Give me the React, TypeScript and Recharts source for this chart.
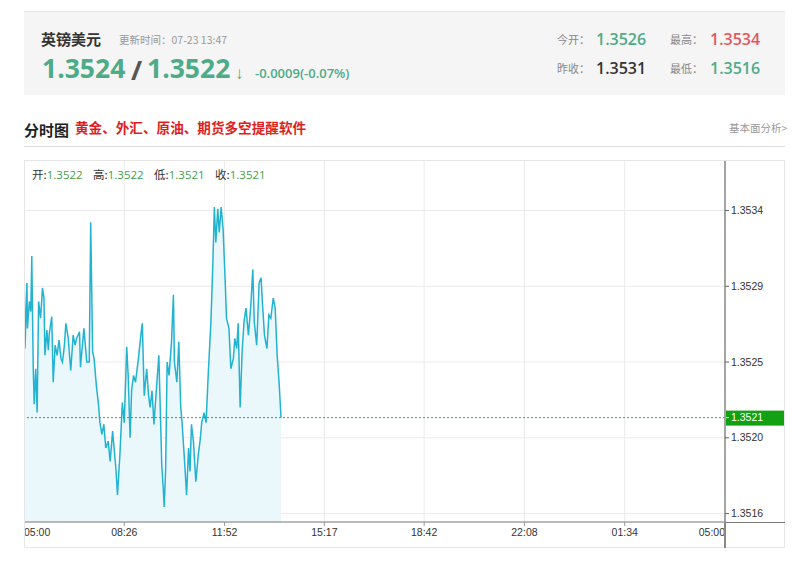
import React from 'react';
import { ComposedChart, Area, XAxis, YAxis, CartesianGrid, ReferenceLine } from 'recharts';

// ---------- data ----------
const PAIR_NAME = '英镑美元';
const UPDATED = '更新时间：07-23 13:47';
const BID = '1.3524';
const ASK = '1.3522';
const CHANGE = '-0.0009(-0.07%)';
const STAT_LABELS = ['今开：', '最高：', '昨收：', '最低：'];
const STAT_VALUES = ['1.3526', '1.3534', '1.3531', '1.3516'];
const TITLE = '分时图';
const PROMO = '黄金、外汇、原油、期货多空提醒软件';
const LINK = '基本面分析>';
const OHLC_LABELS = ['开:', '高:', '低:', '收:'];
const OHLC_VALUES = ['1.3522', '1.3522', '1.3521', '1.3521'];

const TIME_TICKS = [0, 206, 412, 617, 822, 1028, 1234, 1440];
const TIME_LABELS = ['05:00', '08:26', '11:52', '15:17', '18:42', '22:08', '01:34', '05:00'];
const PRICE_TICKS = [1.3516, 1.35205, 1.3525, 1.35295, 1.3534];
const PRICE_LABELS = ['1.3516', '1.3520', '1.3525', '1.3529', '1.3534'];

// minutes after 05:00
const MINUTES = [
  0, 2, 6, 7, 11, 14, 16, 19, 21, 24, 27, 30, 34, 38, 41, 43, 47, 50, 52, 57,
  60, 64, 68, 72, 76, 79, 83, 86, 91, 96, 101, 105, 108, 114, 116, 120, 123, 129, 134, 137,
  141, 144, 149, 153, 156, 160, 164, 168, 173, 177, 182, 185, 189, 192, 197, 202, 206, 211, 214, 218,
  221, 225, 229, 235, 240, 243, 247, 252, 256, 259, 263, 267, 271, 277, 281, 283, 286, 288, 291, 294,
  298, 303, 307, 309, 314, 318, 322, 325, 329, 334, 338, 341, 344, 348, 353, 358, 362, 365, 370, 374,
  379, 384, 388, 391, 394, 398, 401, 405, 409, 413, 416, 421, 425, 430, 433, 437, 440, 444, 448, 452,
  456, 461, 466, 470, 473, 478, 483, 487, 490, 494, 499, 503, 507, 512, 516, 520, 524, 528,
];
const PRICES = [
  1.35312, 1.35258, 1.35297, 1.3527, 1.35286, 1.3528, 1.35313, 1.35246, 1.35225, 1.35246,
  1.3522, 1.35286, 1.35276, 1.35294, 1.35288, 1.35254, 1.35269, 1.35257, 1.35267, 1.35277,
  1.35238, 1.3526, 1.35254, 1.35263, 1.35252, 1.3525, 1.3526, 1.35273, 1.35264, 1.35245,
  1.35266, 1.3526, 1.35264, 1.35268, 1.35247, 1.3526, 1.3527, 1.3525, 1.3525, 1.35333,
  1.35256, 1.35252, 1.35235, 1.35225, 1.35214, 1.35207, 1.35213, 1.35199, 1.35203, 1.35191,
  1.35209, 1.35199, 1.35186, 1.35171, 1.35195, 1.35226, 1.35214, 1.35259, 1.35242, 1.35205,
  1.35233, 1.35242, 1.35238, 1.35252, 1.35266, 1.35273, 1.3523, 1.35246, 1.3523, 1.35223,
  1.35233, 1.35213, 1.3523, 1.35254, 1.35211, 1.35189, 1.35175, 1.35164, 1.35187, 1.3525,
  1.35242, 1.35262, 1.3529, 1.3525, 1.35238, 1.35262, 1.35223, 1.35213, 1.35195, 1.35171,
  1.35199, 1.35185, 1.35213, 1.35203, 1.35179, 1.35195, 1.35204, 1.35214, 1.3522, 1.35214,
  1.35246, 1.35274, 1.35309, 1.35342, 1.35321, 1.35341, 1.35327, 1.35342, 1.35329, 1.353,
  1.35276, 1.3527, 1.35246, 1.35252, 1.35264, 1.35258, 1.35273, 1.35223, 1.35256, 1.35274,
  1.35282, 1.35266, 1.35284, 1.35305, 1.35274, 1.3526, 1.35297, 1.353, 1.35284, 1.35266,
  1.35258, 1.35278, 1.35276, 1.35288, 1.35282, 1.35254, 1.35238, 1.35217,
];
const LAST_PRICE = 1.35217;
const LAST_LABEL = '1.3521';
const Y_DOMAIN = [1.35155, 1.3537];

// ---------- styles ----------
const CJK = "'Noto Sans CJK SC', 'Noto Sans', sans-serif";
const NUM = "'Open Sans', 'Noto Sans', sans-serif";
const AXF = "'Liberation Sans', Arial, sans-serif";
const GREEN = '#4dab87';
const RED = '#e2585f';
const LINE = '#22b3d1';

const T = ({ x, cy, size, color, weight = 400, family = CJK, children }: any) => (
  <div
    style={{
      position: 'absolute',
      left: x,
      top: cy - size * 0.7,
      height: size * 1.4,
      lineHeight: `${size * 1.4}px`,
      fontSize: size,
      color,
      fontWeight: weight,
      fontFamily: family,
      whiteSpace: 'nowrap',
    }}
  >
    {children}
  </div>
);

const XTick = (props: any) => {
  const { x, y, payload } = props;
  const i = TIME_TICKS.indexOf(payload.value);
  const anchor = i === 0 ? 'start' : i === TIME_TICKS.length - 1 ? 'end' : 'middle';
  return (
    <text x={x} y={y + 1} dy="0.71em" textAnchor={anchor} fontSize={10.5} fill="#333" fontFamily={AXF}>
      {TIME_LABELS[i]}
    </text>
  );
};

const YTick = (props: any) => {
  const { x, y, payload } = props;
  const i = PRICE_TICKS.indexOf(payload.value);
  return (
    <text x={x} y={y} dy="0.35em" textAnchor="start" fontSize={10.5} fill="#333" fontFamily={AXF}>
      {PRICE_LABELS[i]}
    </text>
  );
};

const LastLabel = (props: any) => {
  const vb = props.viewBox || {};
  const x = (vb.x || 0) + (vb.width || 0);
  const y = vb.y || 0;
  return (
    <g>
      <rect x={x + 1} y={y - 7} width={59} height={15} fill="#12a112" />
      <line x1={x} x2={x + 4} y1={y} y2={y} stroke="#fff" />
      <text x={x + 6} y={y} dy="0.35em" fontSize={10.5} fill="#fff" fontFamily={AXF}>
        {LAST_LABEL}
      </text>
    </g>
  );
};

export default function App() {
  const data = PRICES.map((p, i) => ({ t: MINUTES[i], p }));
  return (
    <div style={{ position: 'absolute', left: 0, top: 0, width: 800, height: 566, background: '#fff', overflow: 'hidden' }}>
      {/* header box */}
      <div
        style={{
          position: 'absolute',
          left: 24,
          top: 11,
          width: 761,
          height: 84,
          background: '#f5f5f5',
          borderTop: '1px solid #e4e4e4',
          boxSizing: 'border-box',
        }}
      />
      <T x={41} cy={38} size={15} color="#333" weight={700}>{PAIR_NAME}</T>
      <T x={119} cy={40} size={10.5} color="#999">{UPDATED}</T>
      <T x={42} cy={69} size={26.5} color={GREEN} weight={700} family={NUM}>{BID}</T>
      <T x={131} cy={70} size={27} color="#555" weight={700} family={NUM}>/</T>
      <T x={147} cy={69} size={26.5} color={GREEN} weight={700} family={NUM}>{ASK}</T>
      <T x={235} cy={73} size={17} color={GREEN} weight={700} family={NUM}>↓</T>
      <T x={255} cy={73} size={13} color={GREEN} weight={600} family={NUM}>{CHANGE}</T>

      <T x={557} cy={40} size={11} color="#888">{STAT_LABELS[0]}</T>
      <T x={596} cy={39} size={16} color={GREEN} weight={600} family={NUM}>{STAT_VALUES[0]}</T>
      <T x={670} cy={40} size={11} color="#888">{STAT_LABELS[1]}</T>
      <T x={710} cy={39} size={16} color={RED} weight={600} family={NUM}>{STAT_VALUES[1]}</T>
      <T x={557} cy={69} size={11} color="#888">{STAT_LABELS[2]}</T>
      <T x={596} cy={68} size={16} color="#333" weight={600} family={NUM}>{STAT_VALUES[2]}</T>
      <T x={670} cy={69} size={11} color="#888">{STAT_LABELS[3]}</T>
      <T x={710} cy={68} size={16} color={GREEN} weight={600} family={NUM}>{STAT_VALUES[3]}</T>

      {/* title row */}
      <T x={24} cy={129} size={15} color="#222" weight={700}>{TITLE}</T>
      <T x={75} cy={128} size={13.6} color="#e01e1e" weight={700}>{PROMO}</T>
      <T x={729} cy={128} size={10.5} color="#999">{LINK}</T>
      <div style={{ position: 'absolute', left: 24, top: 146, width: 761, height: 1, background: '#dcdcdc' }} />

      {/* chart */}
      <div style={{ position: 'absolute', left: 24, top: 160 }}>
        <ComposedChart width={761} height={388} data={data} margin={{ top: 0, right: 0, bottom: 0, left: 0 }}>
          <CartesianGrid stroke="#ebebeb" horizontalValues={PRICE_TICKS} verticalValues={TIME_TICKS} />
          <XAxis
            dataKey="t"
            type="number"
            domain={[0, 1440]}
            ticks={TIME_TICKS}
            interval={0}
            height={26}
            tickSize={4}
            tickMargin={2}
            axisLine={{ stroke: '#777' }}
            tickLine={{ stroke: '#999' }}
            tick={<XTick />}
            allowDataOverflow
          />
          <YAxis
            orientation="right"
            type="number"
            domain={Y_DOMAIN}
            ticks={PRICE_TICKS}
            interval={0}
            width={60}
            tickSize={4}
            tickMargin={2}
            axisLine={{ stroke: '#888', strokeWidth: 1.5 }}
            tickLine={{ stroke: '#666' }}
            tick={<YTick />}
            allowDataOverflow
          />
          <Area
            type="linear"
            dataKey="p"
            stroke={LINE}
            strokeWidth={1.5}
            fill="#eaf7fb"
            fillOpacity={1}
            dot={false}
            activeDot={false}
            isAnimationActive={false}
          />
          <ReferenceLine y={LAST_PRICE} stroke="#3aa83a" strokeDasharray="2 2" label={<LastLabel />} />
        </ComposedChart>
      </div>
      {/* chart frame and axis extensions */}
      <div
        style={{
          position: 'absolute',
          left: 24,
          top: 160,
          width: 761,
          height: 388,
          border: '1px solid #e6e6e6',
          boxSizing: 'border-box',
          pointerEvents: 'none',
        }}
      />
      <div style={{ position: 'absolute', left: 725, top: 522, width: 60, height: 1, background: '#777' }} />
      <div style={{ position: 'absolute', left: 724, top: 522, width: 1.5, height: 26, background: '#888' }} />

      {/* OHLC overlay */}
      {OHLC_LABELS.map((l, i) => (
        <div
          key={l}
          style={{
            position: 'absolute',
            left: 32 + i * 61,
            top: 166,
            lineHeight: '16px',
            fontSize: 11.5,
            fontFamily: CJK,
            whiteSpace: 'nowrap',
            color: '#333',
          }}
        >
          {l}
          <span style={{ color: '#43a047', fontFamily: NUM }}>{OHLC_VALUES[i]}</span>
        </div>
      ))}
    </div>
  );
}
